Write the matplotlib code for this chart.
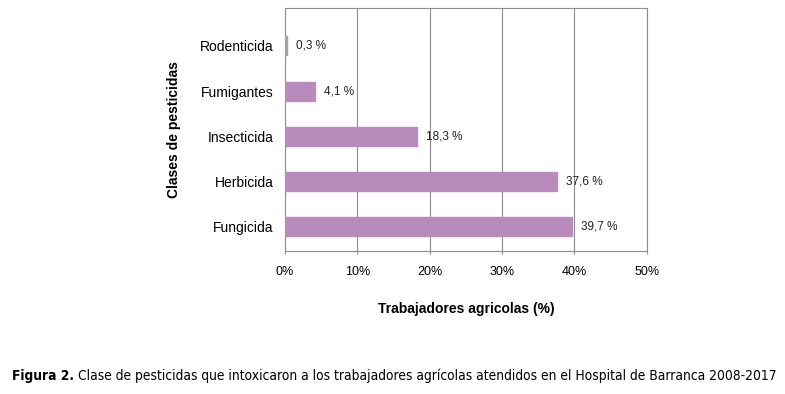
import matplotlib
matplotlib.use("Agg")
import matplotlib.pyplot as plt

# Data
categories = ["Fungicida", "Herbicida", "Insecticida", "Fumigantes", "Rodenticida"]
values = [39.7, 37.6, 18.3, 4.1, 0.3]
value_labels = ["39,7 %", "37,6 %", "18,3 %", "4,1 %", "0,3 %"]
x_ticks = [0, 10, 20, 30, 40, 50]
x_tick_labels = ["0%", "10%", "20%", "30%", "40%", "50%"]

PURPLE = "#b98bbd"
GRAY_BAR = "#a4a4a4"
GRID = "#8c8c8c"

plt.rcParams["font.family"] = ["Liberation Sans", "DejaVu Sans"]

fig = plt.figure(figsize=(7.85, 3.94), dpi=100)
ax = fig.add_axes([0.363, 0.363, 0.461, 0.617])

colors = [PURPLE] * 4 + [GRAY_BAR]
ypos = list(range(len(categories)))
ax.barh(ypos, values, height=0.42, color=colors, edgecolor=colors,
        linewidth=1.0, zorder=3)

for y, v, lab in zip(ypos, values, value_labels):
    ax.annotate(lab, (v, y), xytext=(6.5, 0), textcoords="offset points",
                va="center", ha="left", fontsize=8.5, color="#222222")

ax.set_xlim(0, 50)
ax.set_ylim(-0.53, 4.84)
ax.set_xticks(x_ticks)
ax.set_xticklabels(x_tick_labels, fontsize=9)
ax.set_yticks(ypos)
ax.set_yticklabels(categories, fontsize=10)
ax.tick_params(axis="y", length=0, pad=8)
ax.tick_params(axis="x", length=2, pad=9, color=GRID)
ax.grid(axis="x", color=GRID, linewidth=0.8, zorder=0)
for s in ax.spines.values():
    s.set_color(GRID)
    s.set_linewidth(0.8)

ax.set_xlabel("Trabajadores agricolas (%)", fontsize=10, fontweight="bold", labelpad=17)
ax.set_ylabel("Clases de pesticidas", fontsize=10, fontweight="bold", labelpad=14)

# caption
cap_y = 1 - 376 / 394
t1 = fig.text(12 / 785, cap_y, "Figura 2.", fontsize=9.9, fontweight="bold",
              family="DejaVu Sans", stretch="condensed", va="center", ha="left")
fig.canvas.draw()
bb = t1.get_window_extent()
x2 = (bb.x1 + 4) / fig.bbox.width
fig.text(x2, cap_y,
         "Clase de pesticidas que intoxicaron a los trabajadores agrícolas atendidos en el Hospital de Barranca 2008-2017",
         fontsize=9.9, family="DejaVu Sans", stretch="condensed", va="center", ha="left")

fig.savefig("out.png", dpi=100)
